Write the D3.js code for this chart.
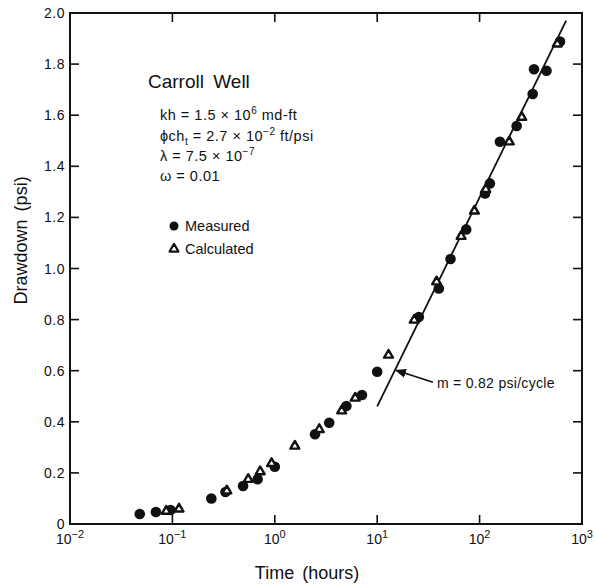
<!DOCTYPE html>
<html>
<head>
<meta charset="utf-8">
<script src="https://cdn.jsdelivr.net/npm/d3@7"></script>
<style>
  body { margin: 0; background: #fff; }
  svg { font-family: "Liberation Sans", Arial, Helvetica, sans-serif; }
</style>
</head>
<body>
<svg id="chart" width="595" height="584"></svg>
<script>
// measured drawdown (filled circles)
const measuredTime = [0.048, 0.069, 0.096, 0.24, 0.33, 0.49, 0.68, 1.0, 2.47, 3.4, 5.0, 7.1, 10.0, 25.5, 40, 52, 74, 113, 126, 158, 230, 330, 340, 450, 610];
const measuredDrawdown = [0.039, 0.047, 0.055, 0.10, 0.125, 0.149, 0.175, 0.224, 0.351, 0.396, 0.462, 0.505, 0.596, 0.81, 0.922, 1.037, 1.153, 1.294, 1.333, 1.496, 1.558, 1.683, 1.78, 1.774, 1.888];

// calculated drawdown (open triangles)
const calcTime = [0.087, 0.116, 0.34, 0.55, 0.72, 0.93, 1.57, 2.72, 4.5, 6.1, 12.9, 23, 38, 66, 89, 115, 195, 258, 574];
const calcDrawdown = [0.05, 0.059, 0.13, 0.175, 0.205, 0.237, 0.305, 0.37, 0.443, 0.493, 0.661, 0.798, 0.948, 1.126, 1.225, 1.31, 1.496, 1.592, 1.879];

// semilog straight line, m = 0.82 psi/cycle
const lineTime = [10, 700];
const lineDrawdown = [0.46, 1.97];

const xTickExp = [-2, -1, 0, 1, 2, 3];
const yTicks = [0, 0.2, 0.4, 0.6, 0.8, 1.0, 1.2, 1.4, 1.6, 1.8, 2.0];
const yTickLabels = ["0", "0.2", "0.4", "0.6", "0.8", "1.0", "1.2", "1.4", "1.6", "1.8", "2.0"];

const svg = d3.select("#chart");
const margin = { top: 13, right: 13, bottom: 60, left: 70 };
const width = 595 - margin.left - margin.right;
const height = 584 - margin.top - margin.bottom;

const x = d3.scaleLog().domain([0.01, 1000]).range([margin.left, margin.left + width]);
const y = d3.scaleLinear().domain([0, 2]).range([margin.top + height, margin.top]);

const ink = "#111";

// frame
svg.append("rect")
    .attr("x", x(0.01)).attr("y", y(2))
    .attr("width", x(1000) - x(0.01)).attr("height", y(0) - y(2))
    .attr("fill", "none").attr("stroke", ink).attr("stroke-width", 2);

// y ticks (left and right, inward)
const tickLen = 9;
yTicks.forEach((v, i) => {
    if (v > 0 && v < 2) {
        svg.append("line")
            .attr("x1", x(0.01)).attr("x2", x(0.01) + tickLen)
            .attr("y1", y(v)).attr("y2", y(v))
            .attr("stroke", ink).attr("stroke-width", 1.6);
        svg.append("line")
            .attr("x1", x(1000)).attr("x2", x(1000) - tickLen)
            .attr("y1", y(v)).attr("y2", y(v))
            .attr("stroke", ink).attr("stroke-width", 1.6);
    }
    svg.append("text")
        .attr("x", x(0.01) - 5).attr("y", y(v) + 5)
        .attr("text-anchor", "end")
        .style("font-size", "14px")
        .style("letter-spacing", "0.5px")
        .attr("fill", ink)
        .text(yTickLabels[i]);
});

// x ticks (bottom and top, inward)
xTickExp.forEach(e => {
    const v = Math.pow(10, e);
    if (e > -2 && e < 3) {
        svg.append("line")
            .attr("x1", x(v)).attr("x2", x(v))
            .attr("y1", y(0)).attr("y2", y(0) - tickLen)
            .attr("stroke", ink).attr("stroke-width", 1.6);
        svg.append("line")
            .attr("x1", x(v)).attr("x2", x(v))
            .attr("y1", y(2)).attr("y2", y(2) + tickLen)
            .attr("stroke", ink).attr("stroke-width", 1.6);
    }
    const t = svg.append("text")
        .attr("x", x(v)).attr("y", y(0) + 20)
        .attr("text-anchor", "middle")
        .style("font-size", "14px")
        .attr("fill", ink);
    t.append("tspan").text("10");
    t.append("tspan").attr("dy", -6).style("font-size", "11px")
        .text(e < 0 ? "\u2212" + Math.abs(e) : String(e));
});

// axis titles
svg.append("text")
    .attr("x", (x(0.01) + x(1000)) / 2 - 19).attr("y", 579)
    .attr("text-anchor", "middle")
    .style("font-size", "18px")
    .style("word-spacing", "3px")
    .attr("fill", ink)
    .text("Time (hours)");

svg.append("text")
    .attr("transform", `translate(27, ${y(1.11)}) rotate(-90)`)
    .attr("text-anchor", "middle")
    .style("font-size", "18px")
    .style("word-spacing", "3px")
    .attr("fill", ink)
    .text("Drawdown (psi)");

// straight line
const line = d3.line().x(d => x(d[0])).y(d => y(d[1]));
svg.append("path")
    .attr("d", line(d3.zip(lineTime, lineDrawdown)))
    .attr("fill", "none").attr("stroke", ink).attr("stroke-width", 1.8);

// measured points
svg.append("g").selectAll("circle")
    .data(d3.zip(measuredTime, measuredDrawdown))
    .join("circle")
    .attr("cx", d => x(d[0])).attr("cy", d => y(d[1]))
    .attr("r", 5.3)
    .attr("fill", ink);

// calculated points
const tri = d3.symbol().type(d3.symbolTriangle).size(34);
svg.append("g").selectAll("path")
    .data(d3.zip(calcTime, calcDrawdown))
    .join("path")
    .attr("d", tri)
    .attr("transform", d => `translate(${x(d[0])},${y(d[1])})`)
    .attr("fill", "#fff").attr("stroke", ink).attr("stroke-width", 2.4)
    .attr("stroke-linejoin", "round");

// slope annotation with arrow
const slopeT = 14.9;
const slopeD = lineDrawdown[0] + (lineDrawdown[1] - lineDrawdown[0]) *
    Math.log10(slopeT / lineTime[0]) / Math.log10(lineTime[1] / lineTime[0]);
const tipX = x(slopeT), tipY = y(slopeD);
svg.append("defs").append("marker")
    .attr("id", "arrow").attr("viewBox", "0 0 10 10")
    .attr("refX", 9).attr("refY", 5)
    .attr("markerWidth", 7).attr("markerHeight", 7)
    .attr("orient", "auto")
    .append("path").attr("d", "M0,1 L10,5 L0,9 Z").attr("fill", ink);
svg.append("line")
    .attr("x1", tipX + 38).attr("y1", tipY + 12)
    .attr("x2", tipX + 1).attr("y2", tipY)
    .attr("stroke", ink).attr("stroke-width", 1.6)
    .attr("marker-end", "url(#arrow)");
svg.append("text")
    .attr("x", tipX + 42).attr("y", tipY + 18)
    .style("font-size", "14px")
    .style("letter-spacing", "0.3px")
    .attr("fill", ink)
    .text("m = 0.82 psi/cycle");

// well parameters block
svg.append("text")
    .attr("x", 148).attr("y", 88)
    .style("font-size", "19px")
    .style("word-spacing", "4px")
    .attr("fill", ink)
    .text("Carroll Well");

const pfs = "14.5px";
const pls = "0.5px";
const p1 = svg.append("text").attr("x", 160).attr("y", 120).style("font-size", pfs).style("letter-spacing", pls).attr("fill", ink);
p1.append("tspan").text("kh = 1.5 \u00d7 10");
p1.append("tspan").attr("dy", -6).style("font-size", "10px").text("6");
p1.append("tspan").attr("dy", 6).text(" md-ft");

const p2 = svg.append("text").attr("x", 160).attr("y", 141).style("font-size", pfs).style("letter-spacing", pls).attr("fill", ink);
p2.append("tspan").text("\u03d5ch");
p2.append("tspan").attr("dy", 4).style("font-size", "10px").text("t");
p2.append("tspan").attr("dy", -4).text(" = 2.7 \u00d7 10");
p2.append("tspan").attr("dy", -6).style("font-size", "10px").text("\u22122");
p2.append("tspan").attr("dy", 6).text(" ft/psi");

const p3 = svg.append("text").attr("x", 160).attr("y", 161).style("font-size", pfs).style("letter-spacing", pls).attr("fill", ink);
p3.append("tspan").text("\u03bb = 7.5 \u00d7 10");
p3.append("tspan").attr("dy", -6).style("font-size", "10px").text("\u22127");

svg.append("text").attr("x", 160).attr("y", 181).style("font-size", pfs).style("letter-spacing", pls).attr("fill", ink)
    .text("\u03c9 = 0.01");

// legend
svg.append("circle").attr("cx", 174).attr("cy", 226).attr("r", 4.5).attr("fill", ink);
svg.append("text").attr("x", 185).attr("y", 231).style("font-size", pfs).attr("fill", ink).text("Measured");
svg.append("path").attr("d", tri).attr("transform", "translate(174,249)")
    .attr("fill", "#fff").attr("stroke", ink).attr("stroke-width", 2.2)
    .attr("stroke-linejoin", "round");
svg.append("text").attr("x", 185).attr("y", 254).style("font-size", pfs).attr("fill", ink).text("Calculated");
</script>
</body>
</html>
